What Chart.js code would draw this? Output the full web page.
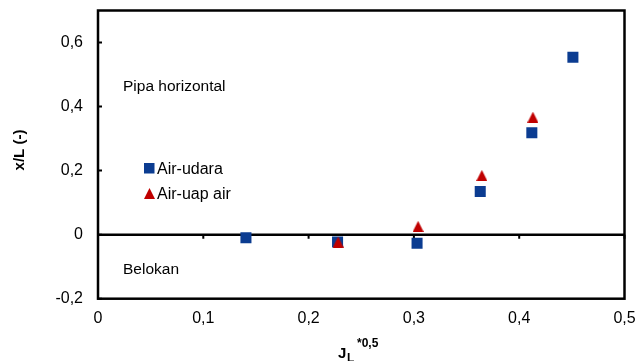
<!DOCTYPE html>
<html>
<head>
<meta charset="utf-8">
<script src="https://cdn.jsdelivr.net/npm/chart.js@4/dist/chart.umd.min.js"></script>
<style>
  html, body { margin: 0; padding: 0; background: #fff; }
  #wrap { width: 636px; height: 361px; }
</style>
</head>
<body>
<div id="wrap"><canvas id="myCanvas" width="636" height="361"></canvas></div>
<script>
// data
var udaraX = [0.1405, 0.2275, 0.303, 0.363, 0.412, 0.451];
var udaraY = [-0.010, -0.023, -0.027, 0.135, 0.318, 0.554];
var uapX = [0.228, 0.304, 0.3645, 0.413];
var uapY = [-0.023, 0.026, 0.185, 0.367];
var xTicks = [0, 0.1, 0.2, 0.3, 0.4, 0.5];
var yTicks = [-0.2, 0, 0.2, 0.4, 0.6];

var biru = '#0B3C91';
var merah = '#C00000';
var huruf = '"Liberation Sans", Arial, sans-serif';

function koma(v) {
    return String(v).replace('.', ',');
}

function toPoints(xs, ys) {
    var out = [];
    for (var i = 0; i < xs.length; i++) {
        out.push({ x: xs[i], y: ys[i] });
    }
    return out;
}

// triangle marker a bit taller than equilateral, like the original
function buatSegitiga(w, h, warna) {
    var c = document.createElement('canvas');
    c.width = w;
    c.height = h;
    var g = c.getContext('2d');
    g.fillStyle = warna;
    g.beginPath();
    g.moveTo(w / 2, 0);
    g.lineTo(w, h);
    g.lineTo(0, h);
    g.closePath();
    g.fill();
    return c;
}
var segitiga = buatSegitiga(11, 11, merah);

// frame, zero line, tick marks, notes, legend and titles
var gambarExtra = {
    id: 'gambarExtra',
    beforeDatasetsDraw: function(chart) {
        var ctx = chart.ctx;
        var a = chart.chartArea;
        var sx = chart.scales.x, sy = chart.scales.y;
        var y0 = sy.getPixelForValue(0);
        ctx.save();
        ctx.strokeStyle = '#000';
        ctx.lineWidth = 2.5;
        ctx.strokeRect(a.left, a.top, a.right - a.left, a.bottom - a.top);
        ctx.beginPath();
        ctx.moveTo(a.left, y0);
        ctx.lineTo(a.right, y0);
        ctx.stroke();
        // tick marks
        ctx.lineWidth = 2;
        ctx.beginPath();
        yTicks.forEach(function(v) {
            var p = sy.getPixelForValue(v);
            ctx.moveTo(a.left, p);
            ctx.lineTo(a.left + 4, p);
        });
        xTicks.forEach(function(v) {
            var p = sx.getPixelForValue(v);
            ctx.moveTo(p, y0);
            ctx.lineTo(p, y0 + 4);
        });
        ctx.stroke();
        ctx.restore();
    },
    afterDraw: function(chart) {
        var ctx = chart.ctx;
        ctx.save();
        ctx.fillStyle = '#000';
        ctx.textAlign = 'left';
        ctx.textBaseline = 'alphabetic';
        ctx.font = '15.5px ' + huruf;
        ctx.fillText('Pipa horizontal', 123, 91);
        ctx.fillText('Belokan', 123, 274);
        ctx.font = '16px ' + huruf;
        ctx.fillText('Air-udara', 157, 174);
        ctx.fillText('Air-uap air', 157, 199);
        // legend markers
        ctx.fillStyle = biru;
        ctx.fillRect(144, 163, 10.5, 10.5);
        ctx.drawImage(segitiga, 144, 188);
        // y title
        ctx.fillStyle = '#000';
        ctx.save();
        ctx.translate(20, 150);
        ctx.rotate(-Math.PI / 2);
        ctx.textAlign = 'center';
        ctx.textBaseline = 'middle';
        ctx.font = 'bold 15px ' + huruf;
        ctx.fillText('x/L (-)', 0, 0);
        ctx.restore();
        // x title J_L^*0,5
        ctx.font = 'bold 15px ' + huruf;
        ctx.fillText('J', 338, 358);
        ctx.font = 'bold 12px ' + huruf;
        ctx.fillText('L', 347, 362);
        ctx.fillText('*0,5', 357, 347);
        ctx.restore();
    }
};

var myCanvas = document.getElementById('myCanvas').getContext('2d');
var chart = new Chart(myCanvas, {
    type: 'scatter',
    data: {
        datasets: [{
            label: 'Air-udara',
            data: toPoints(udaraX, udaraY),
            order: 2,
            pointStyle: 'rect',
            pointRadius: 7.8,
            pointHoverRadius: 7.8,
            backgroundColor: biru,
            borderColor: biru,
            borderWidth: 0
        }, {
            label: 'Air-uap air',
            data: toPoints(uapX, uapY),
            order: 1,
            pointStyle: segitiga,
            pointRadius: 6,
            pointHoverRadius: 6,
            backgroundColor: merah,
            borderColor: merah,
            borderWidth: 0
        }]
    },
    options: {
        responsive: false,
        animation: false,
        events: [],
        layout: { padding: { left: 0, top: 10.5, right: 11.5, bottom: 0 } },
        plugins: {
            legend: { display: false },
            tooltip: { enabled: false }
        },
        scales: {
            x: {
                type: 'linear',
                min: 0,
                max: 0.5,
                grid: { display: false },
                border: { display: false },
                afterBuildTicks: function(scale) {
                    scale.ticks = xTicks.map(function(v) { return { value: v }; });
                },
                afterFit: function(scale) {
                    scale.height = 62.3;
                    scale.paddingLeft = 0;
                    scale.paddingRight = 0;
                },
                ticks: {
                    color: '#000',
                    font: { family: huruf, size: 16 },
                    padding: 2,
                    maxRotation: 0,
                    callback: function(v) { return koma(v); }
                }
            },
            y: {
                type: 'linear',
                min: -0.2,
                max: 0.7,
                grid: { display: false },
                border: { display: false },
                afterBuildTicks: function(scale) {
                    scale.ticks = yTicks.map(function(v) { return { value: v }; });
                },
                afterFit: function(scale) {
                    scale.width = 98;
                    scale.paddingTop = 0;
                    scale.paddingBottom = 0;
                },
                ticks: {
                    color: '#000',
                    font: { family: huruf, size: 16 },
                    padding: 7,
                    callback: function(v) { return koma(v); }
                }
            }
        }
    },
    plugins: [gambarExtra]
});
</script>
</body>
</html>
